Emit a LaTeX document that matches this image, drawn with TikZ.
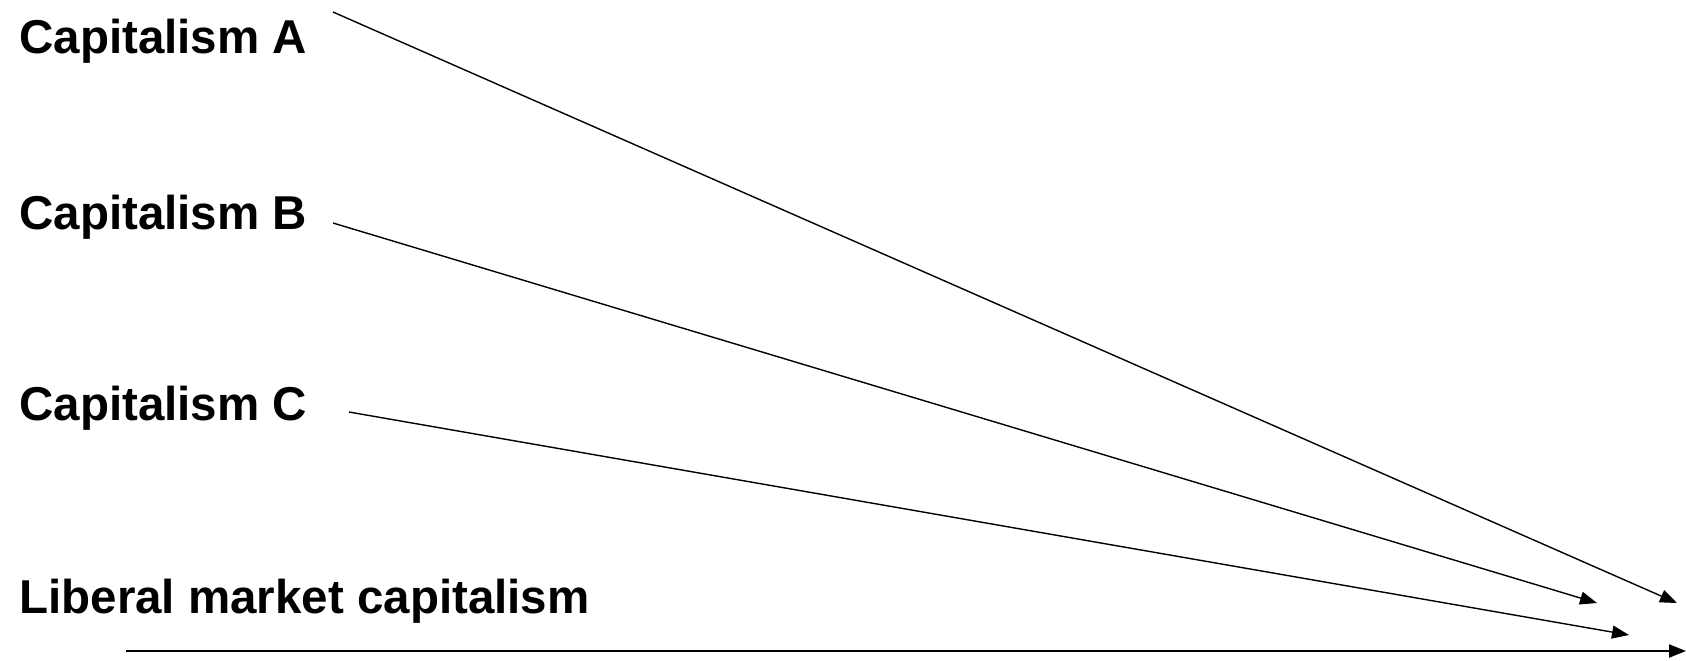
\documentclass[tikz,border=0pt]{standalone}
\usepackage{fontspec}
\setmainfont{Liberation Sans}
\usetikzlibrary{arrows.meta}

\tikzset{
    label/.style={anchor=base west, inner sep=0pt, font=\fontsize{23.75}{28}\selectfont\bfseries},
    link/.style={line width=0.7pt, -{Triangle[length=8.5pt, width=6.5pt]}}
}

\begin{document}
\begin{tikzpicture}[x=0.5pt, y=-0.5pt]
        \useasboundingbox (0,0) rectangle (1686,660);

        % Labels
        \node[label] (capA) at (19,53) {Capitalism A};
        \node[label] (capB) at (19,229) {Capitalism B};
        \node[label] (capC) at (19,420) {Capitalism C};
        \node[label] (liberal) at (19,613) {Liberal market capitalism};

        % Start and end points
        \coordinate (a0) at (333,12);   \coordinate (a1) at (1677,603);
        \coordinate (b0) at (333,223);  \coordinate (b1) at (1597,603);
        \coordinate (c0) at (349,412);  \coordinate (c1) at (1629,635);
        \coordinate (l0) at (126,651);  \coordinate (l1) at (1686,651);

        % Arrows
        \foreach \s/\e in {a0/a1, b0/b1, c0/c1}
            \draw[link] (\s) -- (\e);
        \draw[link, line width=1pt] (l0) -- (l1);
    \end{tikzpicture}
\end{document}
